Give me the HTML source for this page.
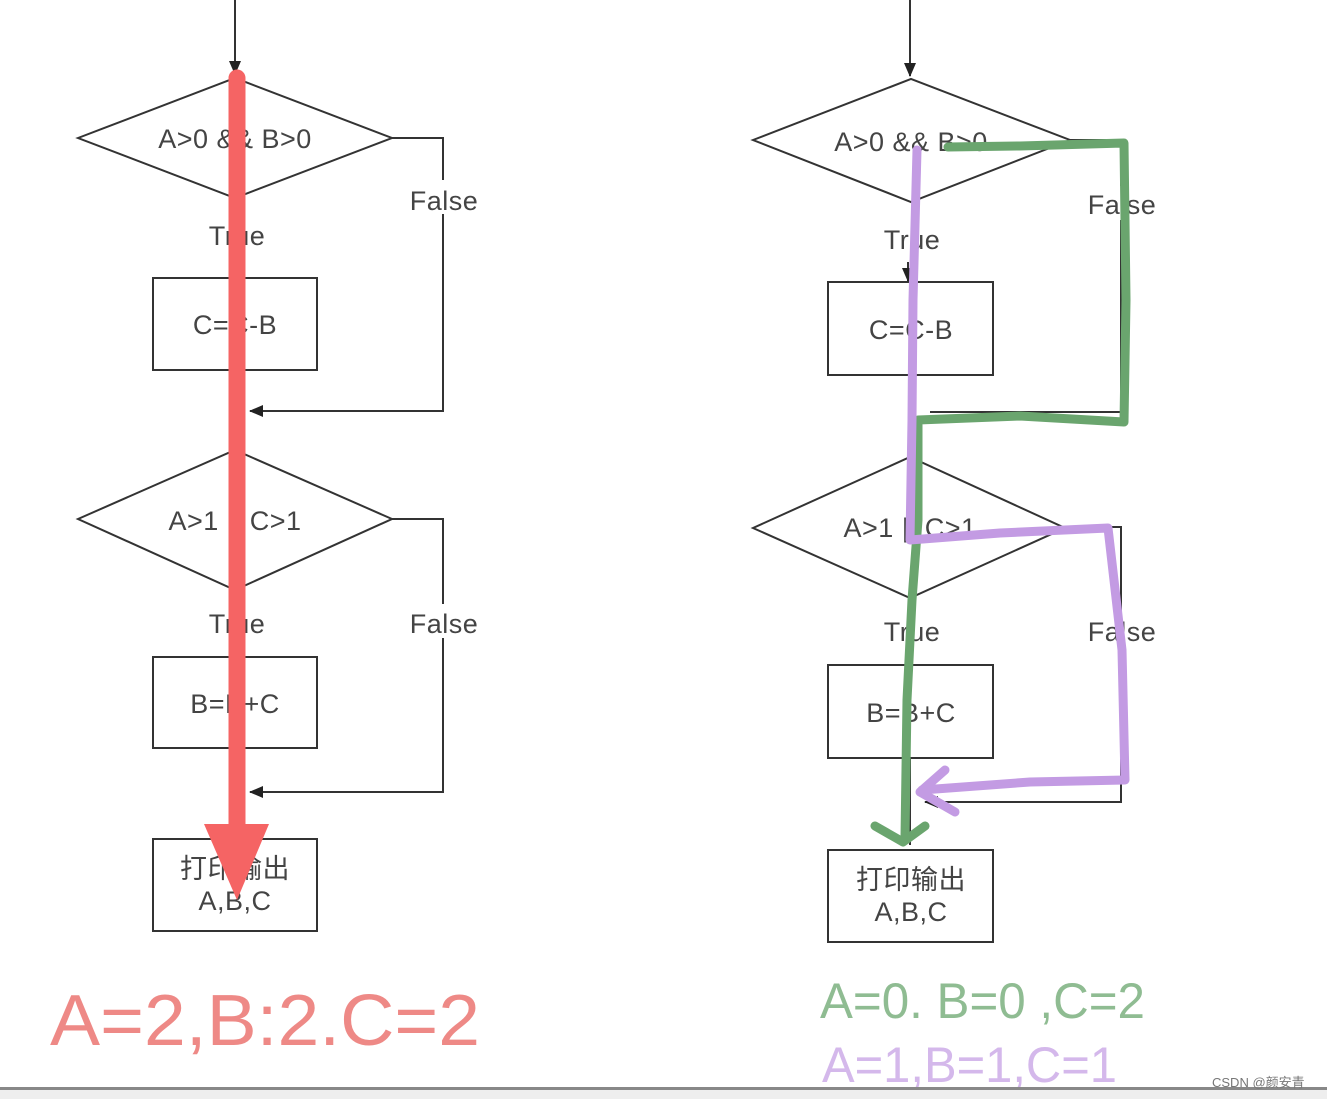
<!DOCTYPE html>
<html><head><meta charset="utf-8"><style>
html,body{margin:0;padding:0;background:#fff;}
svg{display:block;}
text{font-family:"Liberation Sans","Noto Sans CJK SC",sans-serif;}
</style></head><body>
<svg width="1327" height="1099" viewBox="0 0 1327 1099" xmlns="http://www.w3.org/2000/svg">
<defs>
<marker id="ah" markerWidth="14" markerHeight="14" refX="13" refY="7" orient="auto" markerUnits="userSpaceOnUse">
<path d="M0,1 L14,7 L0,13 Z" fill="#222"/>
</marker>
</defs>
<rect width="1327" height="1099" fill="#fff"/>
<g stroke="#333" stroke-width="2" fill="none">
<line x1="235" y1="0" x2="235" y2="74" marker-end="url(#ah)"/>
<polygon points="78,138 235,78 392,138 235,198" fill="#fff"/>
<rect x="153" y="278" width="164" height="92"/>
<polyline points="392,138 443,138 443,411 250,411" marker-end="url(#ah)"/>
<polygon points="78,519 235,450 392,519 235,590" fill="#fff"/>
<rect x="153" y="657" width="164" height="91"/>
<polyline points="392,519 443,519 443,792 250,792" marker-end="url(#ah)"/>
<rect x="153" y="839" width="164" height="92"/>
<line x1="910" y1="0" x2="910" y2="76" marker-end="url(#ah)"/>
<polygon points="753,140 911,79 1070,140 911,202" fill="#fff"/>
<rect x="828" y="282" width="165" height="93"/>
<line x1="908" y1="262" x2="908" y2="281" marker-end="url(#ah)"/>
<polyline points="1070,140 1121,140 1121,412 930,412"/>
<polygon points="753,528 910,457 1065,528 910,598" fill="#fff"/>
<rect x="828" y="665" width="165" height="93"/>
<polyline points="1065,527 1121,527 1121,802 925,802" marker-end="url(#ah)"/>
<rect x="828" y="850" width="165" height="92"/>
<line x1="910" y1="758" x2="910" y2="845"/>
</g>
<g fill="#444" font-size="27" text-anchor="middle" letter-spacing="0.5">
<text x="235" y="148">A&gt;0 &amp;&amp; B&gt;0</text>
<text x="237" y="245">True</text>
<rect x="413" y="180" width="62" height="34" fill="#fff"/>
<text x="444" y="210">False</text>
<text x="235" y="334">C=C-B</text>
<text x="235" y="530">A&gt;1 || C&gt;1</text>
<text x="237" y="633">True</text>
<rect x="413" y="604" width="62" height="34" fill="#fff"/>
<text x="444" y="633">False</text>
<text x="235" y="713">B=B+C</text>
<text x="235" y="878">打印输出</text>
<text x="235" y="910">A,B,C</text>

<text x="911" y="151">A&gt;0 &amp;&amp; B&gt;0</text>
<text x="912" y="249">True</text>
<rect x="1090" y="186" width="62" height="34" fill="#fff"/>
<text x="1122" y="214">False</text>
<text x="911" y="339">C=C-B</text>
<text x="910" y="537">A&gt;1 || C&gt;1</text>
<text x="912" y="641">True</text>
<rect x="1090" y="614" width="62" height="34" fill="#fff"/>
<text x="1122" y="641">False</text>
<text x="911" y="722">B=B+C</text>
<text x="911" y="889">打印输出</text>
<text x="911" y="921">A,B,C</text>
</g>
<line x1="237" y1="78" x2="237" y2="830" stroke="#f56464" stroke-width="17" stroke-linecap="round"/>
<polygon points="204,824 269,824 237,900" fill="#f56464"/>
<polyline points="948,147 1020,146 1124,143 1126,300 1124,422 1020,416 918,420 918,520 912,600 907,700 905,838" fill="none" stroke="#6aa56e" stroke-width="9" stroke-linecap="round" stroke-linejoin="round"/>
<polyline points="875,826 903,842 925,826" fill="none" stroke="#6aa56e" stroke-width="9" stroke-linecap="round" stroke-linejoin="round"/>
<polyline points="917,150 913,300 912,420 910,540 1000,533 1108,528 1122,650 1125,780 1030,782 922,790" fill="none" stroke="#c39be3" stroke-width="9" stroke-linecap="round" stroke-linejoin="round"/>
<polyline points="945,770 920,792 955,812" fill="none" stroke="#c39be3" stroke-width="9" stroke-linecap="round" stroke-linejoin="round"/>
<text x="50" y="1045" font-size="72" fill="#e8625e" fill-opacity="0.75" textLength="430" lengthAdjust="spacingAndGlyphs">A=2,B:2.C=2</text>
<text x="820" y="1018" font-size="50" fill="#6aa56e" fill-opacity="0.75" textLength="325" lengthAdjust="spacingAndGlyphs">A=0. B=0 ,C=2</text>
<text x="822" y="1082" font-size="50" fill="#c9a6e6" fill-opacity="0.8" textLength="295" lengthAdjust="spacingAndGlyphs">A=1,B=1,C=1</text>
<rect x="0" y="1087" width="1327" height="3" fill="#888"/>
<rect x="0" y="1090" width="1327" height="9" fill="#eee"/>
<text x="1212" y="1087" font-size="13" fill="#777">CSDN @颜安青</text>
</svg>
</body></html>
